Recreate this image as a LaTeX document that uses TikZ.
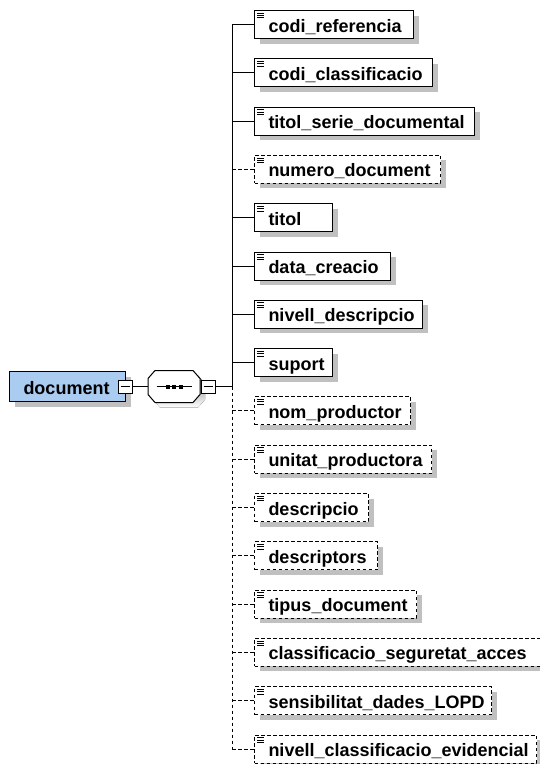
\documentclass[tikz,border=0pt]{standalone}
\usepackage{fontspec}
\setmainfont{Liberation Sans}
\usetikzlibrary{shadows,calc}
\definecolor{docblue}{HTML}{AACCF0}
\definecolor{shade}{HTML}{C0C0C0}
\tikzset{
  conn/.style={line width=1pt, draw=black},
  optconn/.style={conn, dash pattern=on 3.5pt off 2.5pt},
  elembox/.style={rectangle, draw=black, line width=1pt, fill=white, anchor=west,
    minimum height=28pt, inner sep=0pt, text height=15pt, text depth=0pt,
    align=left, font=\bfseries\fontsize{18}{20}\selectfont,
    drop shadow={shadow xshift=5pt, shadow yshift=-5pt, fill=shade, draw=none, opacity=1}},
  reqbox/.style={elembox},
  optbox/.style={elembox, dash pattern=on 3.5pt off 2.5pt},
  docbox/.style={elembox, fill=docblue, minimum height=30pt},
  minusbox/.style={rectangle, draw=black, line width=1pt, fill=white,
    minimum width=14pt, minimum height=13pt, inner sep=0pt},
  seqframe/.style={rectangle, minimum width=52pt, minimum height=32pt, inner sep=0pt},
  icon/.style={line width=0.8pt, draw=black}
}
\begin{document}
\begin{tikzpicture}[x=1pt,y=-1pt]
\useasboundingbox (0,0) rectangle (540,764);
% root element
\node[docbox, text width=116pt] (doc) at (9,386.5) {\hspace*{14pt}document};
\node[minusbox] (m1) at (125,386.5) {};
\draw[line width=1pt] ([xshift=3pt]m1.west) -- ([xshift=-3pt]m1.east);
% sequence compositor
\node[seqframe] (seq) at (174,386.5) {};
\fill[shade] ([shift={(5-19,5-16)}]seq.center) -- ++(38,0) -- ++(7,8) -- ++(0,16) -- ++(-7,8) -- ++(-38,0) -- ++(-7,-8) -- ++(0,-16) -- cycle;
\draw[line width=1pt, fill=white] ([shift={(-19,-16)}]seq.center) -- ++(38,0) -- ++(7,8) -- ++(0,16) -- ++(-7,8) -- ++(-38,0) -- ++(-7,-8) -- ++(0,-16) -- cycle;
\draw[line width=1pt] ([xshift=-17.5pt]seq.center) -- ([xshift=17.5pt]seq.center);
\fill ([shift={(-8.5,-2)}]seq.center) rectangle ++(4,4);
\fill ([shift={(-2,-2)}]seq.center) rectangle ++(4,4);
\fill ([shift={(4.5,-2)}]seq.center) rectangle ++(4,4);
\node[minusbox] (m2) at (208,386.5) {};
\draw[line width=1pt] ([xshift=3pt]m2.west) -- ([xshift=-3pt]m2.east);
\coordinate (tk) at (232,386.5);
% children
\foreach \i/\lab/\w/\st in {
  0/codi\_referencia/159/reqbox,
  1/codi\_classificacio/178/reqbox,
  2/titol\_serie\_documental/220/reqbox,
  3/numero\_document/186/optbox,
  4/titol/78/reqbox,
  5/data\_creacio/136/reqbox,
  6/nivell\_descripcio/168/reqbox,
  7/suport/78/reqbox,
  8/nom\_productor/156/optbox,
  9/unitat\_productora/177/optbox,
  10/descripcio/114/optbox,
  11/descriptors/123/optbox,
  12/tipus\_document/162/optbox,
  13/classificacio\_seguretat\_acces/291/optbox,
  14/sensibilitat\_dades\_LOPD/237/optbox,
  15/nivell\_classificacio\_evidencial/282/optbox}{
  \node[\st, text width=\w pt] (c\i) at (254,{24.5+48.3*\i}) {\hspace*{14pt}\lab};
  \foreach \k in {3,5.4,7.8}{
    \draw[icon] ([shift={(3,\k)}]c\i.north west) -- ++(6.5,0);
  }
}
% connectors
\draw[conn] (m1.east) -- (seq.west);
\draw[conn] (m2.east) -- (tk);
\draw[conn] (tk) -- (tk |- c0.west);
\draw[optconn] (tk) -- (tk |- c15.west);
\foreach \i/\st in {0/conn,1/conn,2/conn,3/optconn,4/conn,5/conn,6/conn,7/conn,
  8/optconn,9/optconn,10/optconn,11/optconn,12/optconn,13/optconn,14/optconn,15/optconn}{
  \draw[\st] (tk |- c\i.west) -- (c\i.west);
}
\end{tikzpicture}
\end{document}
